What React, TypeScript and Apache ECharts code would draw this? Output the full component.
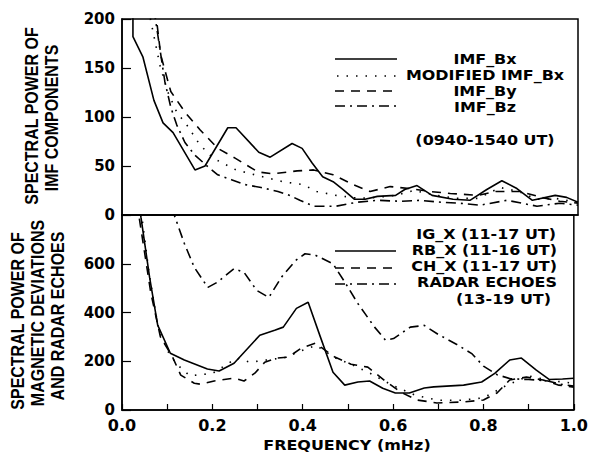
import React, { useEffect, useRef } from "react";
import * as echarts from "echarts";

// ---------- Top panel: IMF components (0940-1540 UT) ----------
const bxFreq = [0.024, 0.024, 0.046, 0.070, 0.090, 0.112, 0.160, 0.182, 0.232, 0.250, 0.300, 0.325, 0.373, 0.395, 0.417, 0.440, 0.463, 0.485, 0.510, 0.533, 0.560, 0.600, 0.620, 0.647, 0.680, 0.726, 0.763, 0.800, 0.833, 0.866, 0.900, 0.950, 0.975, 1.000];
const bxPower = [230, 182, 161, 117, 94, 84, 46, 50, 89, 89, 64, 59, 73, 68, 53, 39, 34, 26, 16, 16, 19, 20, 26, 30, 20, 16, 15, 26, 35, 27, 15, 20, 18, 13];

const modBxFreq = [0.058, 0.083, 0.100, 0.120, 0.145, 0.170, 0.200, 0.250, 0.300, 0.353, 0.397, 0.427, 0.470, 0.520, 0.560, 0.600, 0.640, 0.680, 0.730, 0.780, 0.830, 0.870, 0.910, 0.950, 1.000];
const modBxPower = [210, 153, 126, 105, 90, 72, 58, 46, 40, 34, 31, 24, 20, 17, 18, 20, 25, 21, 17, 17, 28, 24, 16, 17, 13];

const byFreq = [0.073, 0.085, 0.107, 0.138, 0.171, 0.210, 0.248, 0.298, 0.330, 0.384, 0.420, 0.463, 0.507, 0.544, 0.588, 0.630, 0.675, 0.720, 0.780, 0.820, 0.873, 0.920, 0.960, 1.000];
const byPower = [210, 163, 126, 105, 87, 68, 58, 44, 42, 45, 46, 41, 31, 24, 29, 27, 24, 22, 20, 24, 24, 18, 14, 12];

const bzFreq = [0.070, 0.094, 0.107, 0.120, 0.138, 0.160, 0.189, 0.210, 0.240, 0.270, 0.305, 0.342, 0.368, 0.390, 0.420, 0.470, 0.515, 0.560, 0.610, 0.653, 0.700, 0.740, 0.785, 0.844, 0.910, 0.960, 1.000];
const bzPower = [210, 136, 110, 92, 74, 61, 49, 41, 36, 31, 28, 24, 20, 15, 9, 9, 13, 15, 14, 15, 13, 12, 10, 15, 9, 12, 10];

// ---------- Bottom panel: magnetic deviations and radar echoes ----------
const igFreq = [0.040, 0.060, 0.080, 0.100, 0.120, 0.150, 0.200, 0.254, 0.283, 0.320, 0.360, 0.400, 0.430, 0.470, 0.510, 0.550, 0.600, 0.650, 0.700, 0.750, 0.800, 0.850, 0.900, 0.950, 1.000];
const igPower = [850, 560, 340, 245, 190, 140, 150, 213, 196, 205, 215, 245, 265, 215, 185, 150, 100, 60, 40, 40, 50, 100, 140, 120, 110];

const rbFreq = [0.038, 0.042, 0.061, 0.079, 0.107, 0.138, 0.189, 0.215, 0.248, 0.305, 0.338, 0.357, 0.386, 0.412, 0.439, 0.467, 0.493, 0.522, 0.548, 0.577, 0.605, 0.636, 0.669, 0.690, 0.756, 0.796, 0.825, 0.858, 0.884, 0.917, 0.946, 0.975, 1.000];
const rbPower = [850, 790, 545, 348, 233, 205, 168, 160, 192, 307, 327, 340, 417, 442, 300, 155, 102, 115, 119, 89, 70, 70, 90, 95, 102, 115, 150, 205, 213, 164, 125, 127, 130];

const chFreq = [0.033, 0.064, 0.085, 0.112, 0.130, 0.160, 0.173, 0.204, 0.248, 0.270, 0.294, 0.316, 0.342, 0.368, 0.397, 0.428, 0.471, 0.507, 0.544, 0.580, 0.616, 0.653, 0.697, 0.756, 0.800, 0.830, 0.858, 0.895, 0.932, 0.967, 1.000];
const chPower = [850, 478, 300, 217, 143, 110, 106, 119, 131, 119, 151, 196, 213, 217, 254, 274, 217, 188, 176, 123, 74, 41, 29, 33, 41, 70, 123, 135, 123, 102, 94];

const radarFreq = [0.110, 0.138, 0.160, 0.190, 0.210, 0.248, 0.270, 0.298, 0.325, 0.353, 0.384, 0.405, 0.428, 0.467, 0.493, 0.522, 0.559, 0.583, 0.601, 0.638, 0.669, 0.700, 0.740, 0.775, 0.800, 0.830, 0.860, 0.900, 0.940, 0.970, 1.000];
const radarPower = [830, 683, 585, 503, 523, 580, 565, 491, 462, 545, 613, 641, 635, 600, 525, 437, 340, 287, 293, 340, 347, 310, 270, 230, 180, 145, 128, 125, 120, 106, 98];

const topTicks = [0, 50, 100, 150, 200];
const bottomTicks = [0, 200, 400, 600, 800];
const freqTicks = [0.0, 0.2, 0.4, 0.6, 0.8, 1.0];

const zip = (xs: number[], ys: number[]) => xs.map((x, i) => [x, ys[i]]);

const SOLID: any = "solid";
const DASH = [9, 7];
const DOT = [1.5, 8];
const DASHDOT = [10, 5, 2, 5];

const TICK_FONT = "DejaVu Sans";
const TITLE_FONT = "Liberation Sans";

export default function App() {
  const ref = useRef<HTMLDivElement>(null);

  useEffect(() => {
    if (!ref.current) return;
    const chart = echarts.init(ref.current, undefined, { renderer: "svg" });

    const line = (name: string, xi: number, data: number[][], type: any) => ({
      name,
      type: "line",
      xAxisIndex: xi,
      yAxisIndex: xi,
      data,
      symbol: "none",
      showSymbol: false,
      clip: true,
      lineStyle: { color: "#000", width: 1.6, type },
    });

    const axisLabelY = {
      color: "#000",
      fontFamily: TICK_FONT,
      fontWeight: "bold" as const,
      fontSize: 15,
      margin: 7,
    };

    const legendLine = (x1: number, x2: number, y: number, type: any) => ({
      type: "line",
      shape: { x1, y1: y, x2, y2: y },
      style: { stroke: "#000", lineWidth: 1.6, lineDash: type === SOLID ? null : type },
    });
    const legendText = (text: string, x: number, y: number, align: string) => ({
      type: "text",
      x,
      y,
      scaleX: 1.1,
      style: {
        text,
        fill: "#000",
        font: `bold 14.5px "${TICK_FONT}"`,
        align,
        verticalAlign: "middle",
      },
    });
    const yTitle = (text: string, x: number, y: number) => ({
      type: "text",
      x,
      y,
      rotation: Math.PI / 2,
      scaleY: 1.15,
      style: {
        text,
        fill: "#000",
        font: `bold 16px "${TITLE_FONT}"`,
        align: "center",
        verticalAlign: "middle",
      },
    });

    chart.setOption({
      animation: false,
      backgroundColor: "#fff",
      grid: [
        { left: 122, top: 19, width: 456, height: 196, show: true, borderColor: "#000", borderWidth: 1.5, backgroundColor: "transparent" },
        { left: 122, top: 215, width: 456, height: 195, show: true, borderColor: "#000", borderWidth: 1.5, backgroundColor: "transparent" },
      ],
      xAxis: [
        {
          type: "value",
          gridIndex: 0,
          min: freqTicks[0],
          max: freqTicks[freqTicks.length - 1],
          interval: 0.2,
          axisLine: { show: true, lineStyle: { color: "#000", width: 1.5 } },
          axisTick: { show: false },
          axisLabel: { show: false },
          splitLine: { show: false },
        },
        {
          type: "value",
          gridIndex: 1,
          min: freqTicks[0],
          max: freqTicks[freqTicks.length - 1],
          interval: 0.2,
          axisLine: { show: true, onZero: false, lineStyle: { color: "#000", width: 1.5 } },
          axisTick: { show: true, inside: true, length: 6, lineStyle: { color: "#000", width: 1.2 } },
          minorTick: { show: true, splitNumber: 2, length: 6, lineStyle: { color: "#000", width: 1.2 } },
          axisLabel: {
            color: "#000",
            fontFamily: TICK_FONT,
            fontWeight: "bold",
            fontSize: 16,
            margin: 7,
            formatter: (v: number) => v.toFixed(1),
          },
          splitLine: { show: false },
        },
      ],
      yAxis: [
        {
          type: "value",
          gridIndex: 0,
          min: topTicks[0],
          max: topTicks[topTicks.length - 1],
          interval: 50,
          axisLine: { show: true, lineStyle: { color: "#000", width: 1.5 } },
          axisTick: { show: true, inside: true, length: 9, lineStyle: { color: "#000", width: 1.2 } },
          axisLabel: axisLabelY,
          splitLine: { show: false },
        },
        {
          type: "value",
          gridIndex: 1,
          min: bottomTicks[0],
          max: bottomTicks[bottomTicks.length - 1],
          interval: 200,
          axisLine: { show: true, lineStyle: { color: "#000", width: 1.5 } },
          axisTick: { show: true, inside: true, length: 9, lineStyle: { color: "#000", width: 1.2 } },
          axisLabel: { ...axisLabelY, showMaxLabel: false },
          splitLine: { show: false },
        },
      ],
      series: [
        line("IMF_Bx", 0, zip(bxFreq, bxPower), SOLID),
        line("MODIFIED IMF_Bx", 0, zip(modBxFreq, modBxPower), DOT),
        line("IMF_By", 0, zip(byFreq, byPower), DASH),
        line("IMF_Bz", 0, zip(bzFreq, bzPower), DASHDOT),
        line("IG_X (11-17 UT)", 1, zip(igFreq, igPower), DOT),
        line("RB_X (11-16 UT)", 1, zip(rbFreq, rbPower), SOLID),
        line("CH_X (11-17 UT)", 1, zip(chFreq, chPower), DASH),
        line("RADAR ECHOES", 1, zip(radarFreq, radarPower), DASHDOT),
      ],
      graphic: [
        // top legend
        legendLine(335, 397, 59, SOLID),
        legendLine(337, 397, 76, DOT),
        legendLine(335, 397, 91, DASH),
        legendLine(335, 397, 106, DASHDOT),
        legendText("IMF_Bx", 485, 59, "center"),
        legendText("MODIFIED IMF_Bx", 485, 75, "center"),
        legendText("IMF_By", 485, 91, "center"),
        legendText("IMF_Bz", 485, 107, "center"),
        legendText("(0940-1540 UT)", 485, 140, "center"),
        // bottom legend
        legendLine(335, 396, 251, SOLID),
        legendLine(335, 396, 268, DASH),
        legendLine(335, 396, 284, DASHDOT),
        legendText("IG_X (11-17 UT)", 556, 234, "right"),
        legendText("RB_X (11-16 UT)", 557, 250, "right"),
        legendText("CH_X (11-17 UT)", 557, 266, "right"),
        legendText("RADAR ECHOES", 557, 282, "right"),
        legendText("(13-19 UT)", 551, 299, "right"),
        // axis titles
        yTitle("SPECTRAL POWER OF", 32, 116),
        yTitle("IMF COMPONENTS", 52, 118),
        yTitle("SPECTRAL POWER OF", 18, 321),
        yTitle("MAGNETIC DEVIATIONS", 38, 313),
        yTitle("AND RADAR ECHOES", 58, 316),
        legendText("FREQUENCY (mHz)", 347, 445, "center"),
      ],
    });

    return () => chart.dispose();
  }, []);

  return <div ref={ref} style={{ width: 591, height: 457, position: "absolute", left: 0, top: 0 }} />;
}
